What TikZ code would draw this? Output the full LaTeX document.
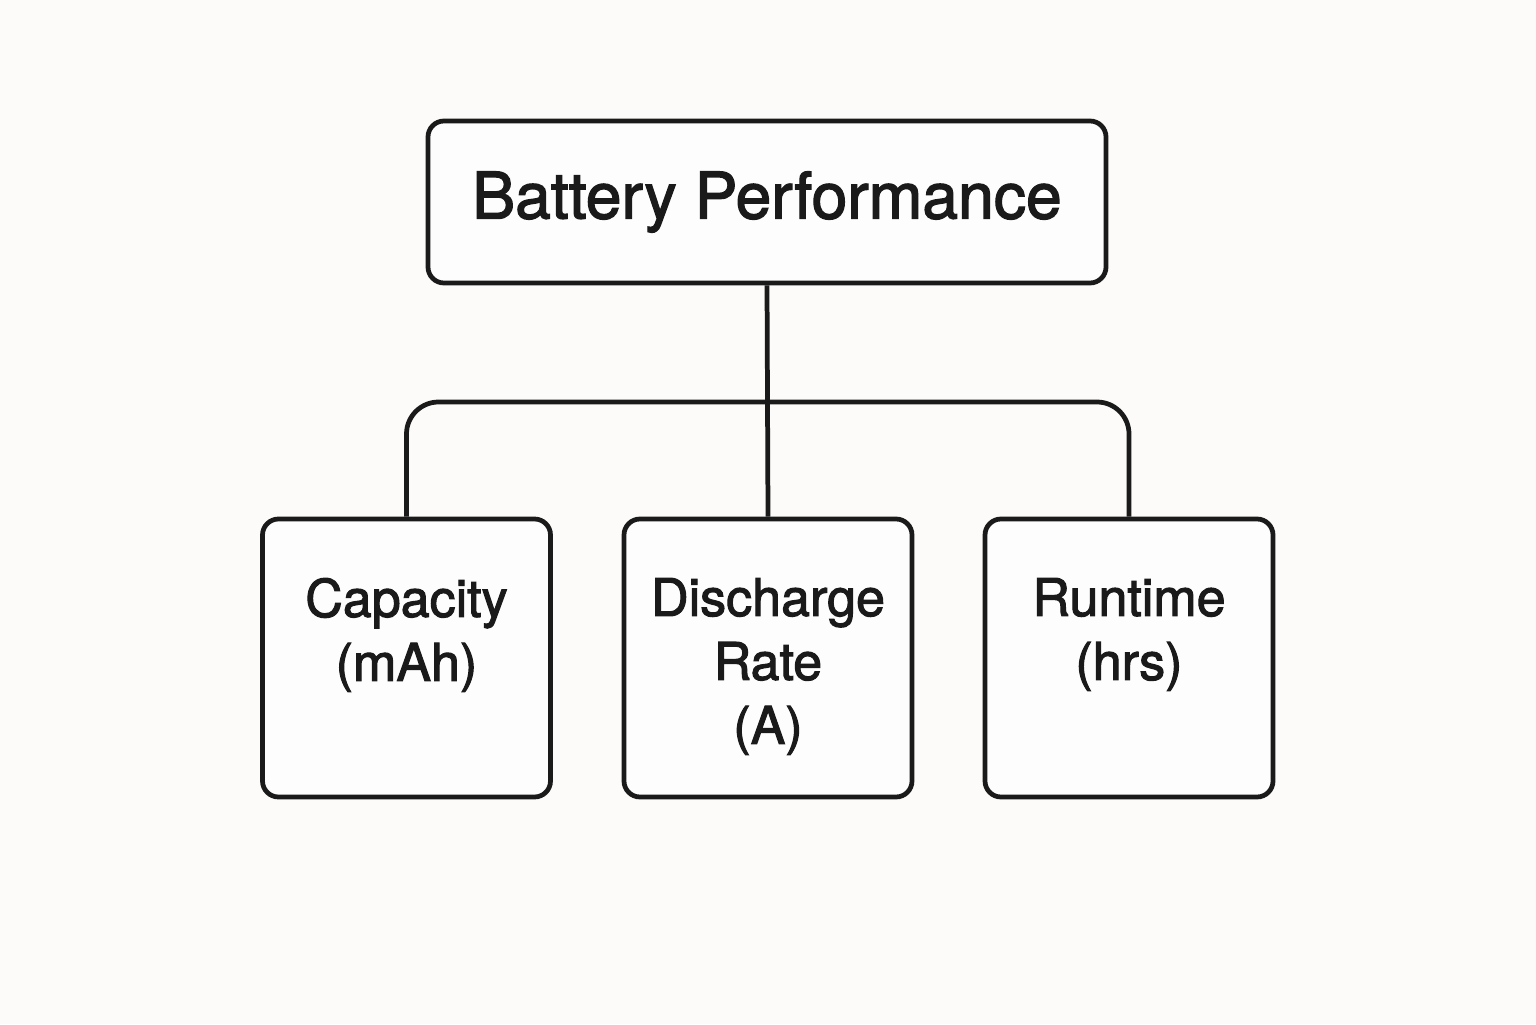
\documentclass[tikz,border=0pt]{standalone}
\usepackage{fontspec}
\setmainfont{TeX Gyre Heros}[FakeBold=2]
\usepackage{xcolor}
\usepackage{tikz}
\usetikzlibrary{positioning}
\definecolor{paperbg}{RGB}{252,251,249}
\definecolor{inkdark}{RGB}{26,26,26}

\begin{document}
\begin{tikzpicture}[
    box/.style={draw=inkdark, line width=1.35pt, rounded corners=0.16cm, fill=white!60!paperbg},
    childbox/.style={box, minimum width=2.88cm, minimum height=2.78cm},
    childtext/.style={text=inkdark, align=center, font=\fontsize{14.8}{18.2}\selectfont, anchor=north},
    link/.style={draw=inkdark, line width=1.35pt}
]
% background and page size
\fill[paperbg] (0,0) rectangle (15.36,10.24);
\useasboundingbox (0,0) rectangle (15.36,10.24);

% Top node
\node[box, minimum width=6.78cm, minimum height=1.62cm, text=inkdark, font=\fontsize{18.3}{22}\selectfont] (battery) at (7.67,8.22) {Battery Performance};

% Child boxes
\node[childbox] (capacity) at (4.065,3.66) {};
\node[childbox] (discharge) at (7.68,3.66) {};
\node[childbox] (runtime) at (11.29,3.66) {};

% Child labels
\node[childtext] (capacitytxt) at ([yshift=-0.49cm]capacity.north) {Capacity\\(mAh)};
\node[childtext] (dischargetxt) at ([yshift=-0.49cm]discharge.north) {Discharge\\Rate\\(A)};
\node[childtext] (runtimetxt) at ([yshift=-0.49cm]runtime.north) {Runtime\\(hrs)};

% Connectors
\coordinate (bar) at (7.67,6.22);
\draw[link] (battery.south) -- (discharge.north);
\draw[link, rounded corners=0.32cm] (capacity.north) |- (bar) -| (runtime.north);
\end{tikzpicture}
\end{document}
